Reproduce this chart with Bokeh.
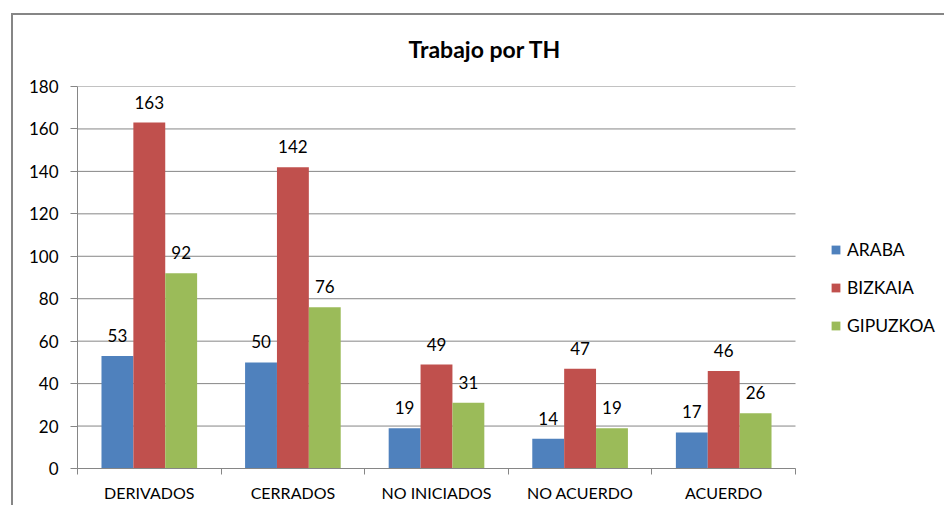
from bokeh.plotting import figure
from bokeh.models import ColumnDataSource, FixedTicker, Range1d, Legend, LegendItem
from bokeh.embed import file_html
from bokeh.resources import INLINE
from bokeh.core.properties import value

categories = ["DERIVADOS", "CERRADOS", "NO INICIADOS", "NO ACUERDO", "ACUERDO"]
series = ["ARABA", "BIZKAIA", "GIPUZKOA"]
araba = [53, 50, 19, 14, 17]
bizkaia = [163, 142, 49, 47, 46]
gipuzkoa = [92, 76, 31, 19, 26]
colors = ["#4F81BD", "#C0504D", "#9BBB59"]
y_ticks = list(range(0, 181, 20))
title_text = "Trabajo por TH"

FONT = "Lato"
GRID = "#868686"

W, H = 944, 505
LEFT, TOP, PLOT_W, PLOT_H = 77, 86, 718, 382
n = len(categories)
x_end = n * (W - LEFT) / PLOT_W   # frame extends under the legend area

p = figure(width=W, height=H,
           x_range=Range1d(0, x_end), y_range=Range1d(0, 180),
           output_backend="svg", toolbar_location=None,
           min_border_left=LEFT, min_border_right=0,
           min_border_top=TOP, min_border_bottom=H - TOP - PLOT_H)
p.background_fill_color = "white"
p.border_fill_alpha = 0
p.outline_line_color = None
p.styles = {
    "background-color": "white",
    "background-image": "linear-gradient(#868686, #868686), linear-gradient(#868686, #868686)",
    "background-size": "calc(100% - 11px) 2px, 2px calc(100% - 13px)",
    "background-position": "11px 13px, 11px 13px",
    "background-repeat": "no-repeat",
}

p.title.text = title_text
p.title.align = "left"
p.title.vertical_align = "top"
p.title.text_font = FONT
p.title.text_font_size = "23px"
p.title.text_font_style = "bold"
p.title.text_color = "#000000"
p.title.offset = 331
p.title.standoff = 43

# horizontal gridlines limited to the category area
p.segment(x0=[0] * len(y_ticks), x1=[n] * len(y_ticks), y0=y_ticks, y1=y_ticks,
          line_color=GRID, line_width=1)

bar_w = 0.222
offsets = [-bar_w, 0.0, bar_w]
renderers = []
for vals, name, col, off in zip([araba, bizkaia, gipuzkoa], series, colors, offsets):
    src = ColumnDataSource(dict(
        x=[i + 0.5 + off for i in range(n)],
        top=vals,
        label=[str(v) for v in vals],
    ))
    r = p.vbar(x="x", top="top", width=bar_w, source=src,
               fill_color=col, line_color=None)
    renderers.append(r)
    p.text(x="x", y="top", text="label", source=src,
           text_align="center", text_baseline="bottom", y_offset=-14,
           text_font=value(FONT), text_font_size="17px", text_color="#000000")

# y axis
p.yaxis.ticker = FixedTicker(ticks=y_ticks)
p.yaxis.axis_line_color = GRID
p.yaxis.major_tick_line_color = GRID
p.yaxis.major_tick_out = 7
p.yaxis.major_tick_in = 0
p.yaxis.minor_tick_line_color = None
p.yaxis.major_label_standoff = 12
p.yaxis.major_label_text_font = FONT
p.yaxis.major_label_text_font_size = "17px"
p.yaxis.major_label_text_color = "#000000"

# x axis: labels at centers, ticks at boundaries
p.xaxis.bounds = (0, n)
p.xaxis.ticker = FixedTicker(ticks=[i + 0.5 for i in range(n)],
                             minor_ticks=list(range(n + 1)))
p.xaxis.major_label_overrides = {i + 0.5: c for i, c in enumerate(categories)}
p.xaxis.axis_line_color = GRID
p.xaxis.major_tick_line_color = None
p.xaxis.major_tick_out = 0
p.xaxis.major_tick_in = 0
p.xaxis.minor_tick_line_color = GRID
p.xaxis.minor_tick_out = 6
p.xaxis.minor_tick_in = 0
p.xaxis.major_label_standoff = 8
p.xaxis.major_label_text_font = FONT
p.xaxis.major_label_text_font_size = "16px"
p.xaxis.major_label_text_color = "#000000"

p.xgrid.grid_line_color = None
p.ygrid.grid_line_color = None

legend = Legend(items=[LegendItem(label=s, renderers=[r]) for s, r in zip(series, renderers)],
                location=(753, 132), padding=0, margin=0,
                border_line_color=None, background_fill_alpha=0,
                glyph_width=11, glyph_height=11, label_height=20, spacing=17,
                label_standoff=6, label_text_font=FONT, label_text_font_size="17.5px",
                label_text_color="#000000")
p.add_layout(legend)

open("out.html", "w").write(file_html(p, INLINE))
